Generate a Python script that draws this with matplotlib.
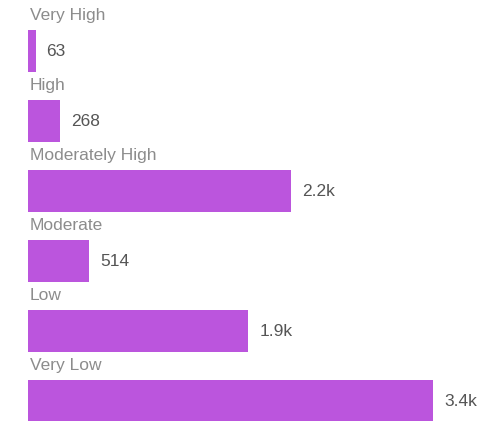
import matplotlib
matplotlib.use("Agg")
import matplotlib.pyplot as plt
import matplotlib.transforms as mtransforms

categories = ["Very High", "High", "Moderately High", "Moderate", "Low", "Very Low"]
values = [63, 268, 2205, 514, 1850, 3400]

def fmt(v):
    if v >= 1000:
        return "%.1fk" % (v / 1000)
    return str(v)

plt.rcParams['font.family'] = ['Liberation Sans', 'DejaVu Sans']

fig = plt.figure(figsize=(4.82, 4.21), dpi=100)
ax = fig.add_axes([28/482, 0, 405/482, 1])
ys = list(range(len(categories)))
ax.barh(ys, values, height=0.6, color="#bb55dd")
ax.set_xlim(0, 3400)
ax.set_ylim((421 - 51) / 70, -51 / 70)
ax.axis("off")

lab_tr = mtransforms.offset_copy(ax.transData, fig=fig, x=2, y=0, units="dots")
val_tr = mtransforms.offset_copy(ax.transData, fig=fig, x=11, y=0, units="dots")
for y, c, v in zip(ys, categories, values):
    ax.text(0, y - 0.51, c, transform=lab_tr, ha="left", va="center",
            fontsize=12.5, color="#8c8c8c")
    ax.text(v, y, fmt(v), transform=val_tr, ha="left", va="center",
            fontsize=12.5, color="#555555")

fig.savefig("out.png", dpi=100)
